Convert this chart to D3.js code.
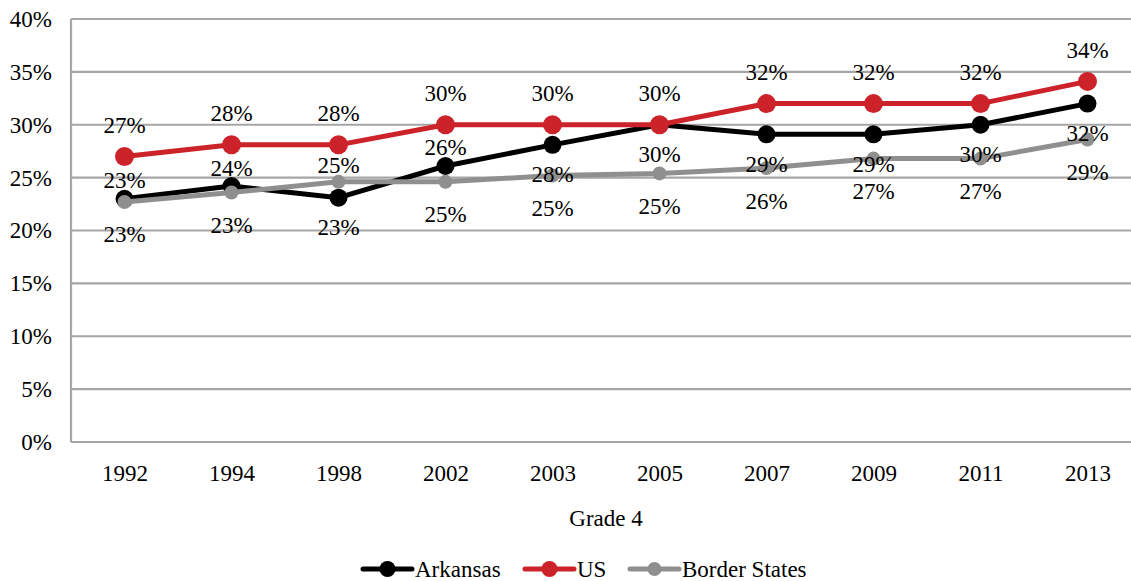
<!DOCTYPE html>
<html><head><meta charset="utf-8">
<script src="https://cdn.jsdelivr.net/npm/d3@7"></script>
<style>
body{margin:0;background:#fff;}
svg{display:block;}
svg text{font-family:"Liberation Serif","DejaVu Serif",serif !important;}
</style></head>
<body><svg id="c" width="1131" height="581"></svg>
<script>
const years = ["1992","1994","1998","2002","2003","2005","2007","2009","2011","2013"];
const arkansas = [23.0, 24.2, 23.1, 26.1, 28.1, 30.0, 29.1, 29.1, 30.0, 32.0];
const us = [27.0, 28.1, 28.1, 30.0, 30.0, 30.0, 32.0, 32.0, 32.0, 34.1];
const border = [22.7, 23.6, 24.6, 24.6, 25.2, 25.4, 25.9, 26.8, 26.8, 28.6];
const arkansasLabels = ["23%","24%","23%","26%","28%","30%","29%","29%","30%","32%"];
const usLabels = ["27%","28%","28%","30%","30%","30%","32%","32%","32%","34%"];
const borderLabels = ["23%","23%","25%","25%","25%","25%","26%","27%","27%","29%"];
const arkansasSide = ["above","above","below","above","below","below","below","below","below","below"];
const usSide = ["above","above","above","above","above","above","above","above","above","above"];
const borderSide = ["below","below","above","below","below","below","below","below","below","below"];
const yTicks = [0,5,10,15,20,25,30,35,40];
const seriesNames = ["Arkansas","US","Border States"];
const xTitle = "Grade 4";

const FONT = "'Liberation Serif', 'DejaVu Serif', serif";
const svg = d3.select("#c");
const L = 71, R = 1141, T = 19, B = 442;
const x = d3.scalePoint().domain(years).range([L, R]).padding(0.5);
const y = d3.scaleLinear().domain([0, 40]).range([B, T]);
const FS = 23;

// gridlines
svg.append("g").selectAll("line").data(yTicks).join("line")
  .attr("x1", L).attr("x2", 1131)
  .attr("y1", d => y(d)).attr("y2", d => y(d))
  .attr("stroke", "#a6a6a6").attr("stroke-width", 2.2);
svg.append("line").attr("x1", L).attr("x2", L).attr("y1", y(40)).attr("y2", y(0))
  .attr("stroke", "#a6a6a6").attr("stroke-width", 2.2);

// y axis
const ya = svg.append("g").attr("transform", `translate(${L - 19},0)`)
  .call(d3.axisLeft(y).tickValues(yTicks).tickSize(0).tickFormat(d => d + "%"));
ya.attr("font-family", null);
ya.select(".domain").remove();
ya.selectAll("text").style("font-family", FONT).attr("font-size", FS).attr("fill", "#000").attr("x", 0);

// x axis
const xa = svg.append("g").attr("transform", `translate(0,${B + 19})`)
  .call(d3.axisBottom(x).tickSize(0));
xa.attr("font-family", null);
xa.select(".domain").remove();
xa.selectAll("text").style("font-family", FONT).attr("font-size", FS).attr("fill", "#000").attr("dy", "0.75em");

svg.append("text").attr("x", (L + R) / 2).attr("y", 518).attr("text-anchor", "middle")
  .attr("dominant-baseline", "central").style("font-family", FONT).attr("font-size", FS).text(xTitle);

const series = [
  {name: seriesNames[0], vals: arkansas, labels: arkansasLabels, side: arkansasSide, color: "#000000", mk: "#000000", r: 9, up: 18, down: 30},
  {name: seriesNames[1], vals: us, labels: usLabels, side: usSide, color: "#cc2229", mk: "#cc2229", r: 9.5, up: 31, down: 30},
  {name: seriesNames[2], vals: border, labels: borderLabels, side: borderSide, color: "#8f8f8f", mk: "#8f8f8f", r: 7, up: 16, down: 33}
];

const line = d3.line().x((d, i) => x(years[i])).y(d => y(d));
series.forEach(s => {
  const g = svg.append("g");
  g.append("path").datum(s.vals).attr("d", line).attr("fill", "none")
    .attr("stroke", s.color).attr("stroke-width", 5).attr("stroke-linejoin", "round");
  g.selectAll("circle").data(s.vals).join("circle")
    .attr("cx", (d, i) => x(years[i])).attr("cy", d => y(d)).attr("r", s.r)
    .attr("fill", s.mk);
});

// labels
series.forEach(s => {
  svg.append("g").selectAll("text").data(s.vals).join("text")
    .attr("x", (d, i) => x(years[i]))
    .attr("y", (d, i) => y(d) + (s.side[i] === "above" ? -s.up : s.down))
    .attr("text-anchor", "middle").attr("dominant-baseline", "central")
    .style("font-family", FONT).attr("font-size", FS).attr("fill", "#000")
    .text((d, i) => s.labels[i]);
});

// legend
const legendX = [363, 525, 630];
const lg = svg.append("g");
series.forEach((s, i) => {
  const g = lg.append("g").attr("transform", `translate(${legendX[i]},569)`);
  g.append("line").attr("x1", 0).attr("x2", 49).attr("y1", 0).attr("y2", 0)
    .attr("stroke", s.color).attr("stroke-width", 5).attr("stroke-linecap", "round");
  g.append("circle").attr("cx", 24.5).attr("cy", 0).attr("r", i === 2 ? 7 : 8).attr("fill", s.mk);
  g.append("text").attr("x", 52).attr("y", 0).attr("dominant-baseline", "central")
    .style("font-family", FONT).attr("font-size", FS).text(s.name);
});
</script></body></html>
